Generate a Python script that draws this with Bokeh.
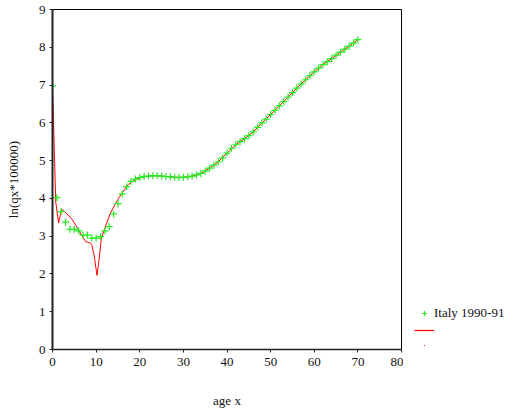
from bokeh.plotting import figure
from bokeh.layouts import row
from bokeh.models import Legend, LegendItem, Range1d, FixedTicker
from bokeh.embed import file_html
from bokeh.resources import INLINE

# observed points: Italy 1990-91
ages = list(range(0, 71))
lnqx = [6.98, 4.02, 3.65, 3.37, 3.18, 3.18, 3.14, 3.03, 3.03, 2.95,
        2.95, 2.99, 3.14, 3.25, 3.59, 3.86, 4.12, 4.31, 4.45, 4.51,
        4.55, 4.58, 4.59, 4.60, 4.60, 4.59, 4.58, 4.57, 4.56, 4.55,
        4.56, 4.57, 4.59, 4.62, 4.66, 4.72, 4.80, 4.88, 4.97, 5.07,
        5.20, 5.32, 5.42, 5.50, 5.58, 5.66, 5.76, 5.88, 6.00, 6.10,
        6.22, 6.33, 6.45, 6.56, 6.68, 6.80, 6.92, 7.03, 7.14, 7.25,
        7.35, 7.45, 7.54, 7.62, 7.70, 7.79, 7.87, 7.95, 8.03, 8.11,
        8.20]

# fitted curve
fit_age = [0, 0.75, 1.4, 2.1, 3.3, 4.4, 5.6, 6.7, 7.6, 8.6, 9.0, 9.6, 10.2,
           10.7, 11.2, 12.1, 13.2, 14.4, 15.9, 17.4, 19, 20.5, 22, 24, 26,
           28, 30, 32, 34, 36, 38, 40, 42, 44, 46, 48, 50, 52, 54, 56, 58,
           60, 62, 64, 66, 68, 70]
fit_val = [6.95, 3.9, 3.35, 3.72, 3.59, 3.46, 3.24, 3.02, 2.86, 2.82, 2.78,
           2.45, 1.96, 2.4, 2.95, 3.24, 3.59, 3.86, 4.14, 4.37, 4.50, 4.56,
           4.59, 4.60, 4.58, 4.56, 4.56, 4.59, 4.66, 4.80, 4.97, 5.20, 5.42,
           5.58, 5.76, 6.00, 6.22, 6.45, 6.68, 6.92, 7.14, 7.35, 7.54, 7.70,
           7.87, 8.03, 8.20]

x_ticks = [0, 10, 20, 30, 40, 50, 60, 70, 80]
y_ticks = [0, 1, 2, 3, 4, 5, 6, 7, 8, 9]
series_label = "Italy 1990-91"

FONT = "Liberation Serif"
GREEN = "#22ee22"

p = figure(width=403, height=410, output_backend="svg", toolbar_location=None,
           x_range=Range1d(0, 80), y_range=Range1d(0, 9),
           min_border_left=52, min_border_right=2, min_border_top=9,
           min_border_bottom=61)
p.grid.visible = False
p.outline_line_color = "black"
p.outline_line_width = 1
p.background_fill_color = "white"

for ax in (p.xaxis[0], p.yaxis[0]):
    ax.major_label_text_font = FONT
    ax.major_label_text_font_size = "13px"
    ax.major_label_text_color = "#111111"
    ax.axis_label_text_font = FONT
    ax.axis_label_text_font_size = "13px"
    ax.axis_label_text_font_style = "normal"
    ax.axis_label_text_color = "#111111"
    ax.minor_tick_line_color = None
    ax.major_tick_in = 0
    ax.major_tick_out = 3
    ax.axis_line_color = "#222222"
    ax.major_tick_line_color = "#222222"

p.xaxis.ticker = FixedTicker(ticks=x_ticks)
p.yaxis.ticker = FixedTicker(ticks=y_ticks)
p.xaxis.axis_label = "age x"
p.yaxis.axis_label = "ln(qx*100000)"
p.xaxis.axis_line_width = 1.5
p.yaxis.axis_line_width = 2
p.xaxis.major_label_standoff = 5
p.xaxis.axis_label_standoff = 24
p.yaxis.major_label_standoff = 4
p.yaxis.axis_label_standoff = 15

p.line(fit_age, fit_val, line_color="red", line_width=1)
p.scatter(ages, lnqx, marker="cross", size=7, line_color=GREEN, line_width=1.2)

# side panel holding the legend (its renderers lie outside its visible ranges)
q = figure(width=117, height=410, output_backend="svg", toolbar_location=None,
           x_range=Range1d(-1000, -999), y_range=Range1d(-1000, -999),
           x_axis_location=None, y_axis_location=None,
           min_border_left=0, min_border_right=0, min_border_top=0,
           min_border_bottom=0)
q.grid.visible = False
q.outline_line_color = None
lg_pts = q.scatter(ages, lnqx, marker="cross", size=7, line_color=GREEN,
                   line_width=1.2)
lg_line = q.line(fit_age, fit_val, line_color="red", line_width=1.2)
lg_dot = q.scatter(fit_age, fit_val, marker="dot", size=7, line_color="red",
                   fill_color="red")

legend = Legend(items=[
    LegendItem(label=series_label, renderers=[lg_pts]),
    LegendItem(label=" ", renderers=[lg_line]),
    LegendItem(label=" ", renderers=[lg_dot]),
], location=(11, -2), glyph_width=20, glyph_height=12, label_height=12,
    spacing=3, padding=0, margin=0, label_standoff=0,
    border_line_color=None, background_fill_alpha=0,
    label_text_font=FONT, label_text_font_size="13px",
    label_text_color="#111111")
q.add_layout(legend, "center")

layout = row(p, q)
open("out.html", "w").write(file_html(layout, INLINE))
